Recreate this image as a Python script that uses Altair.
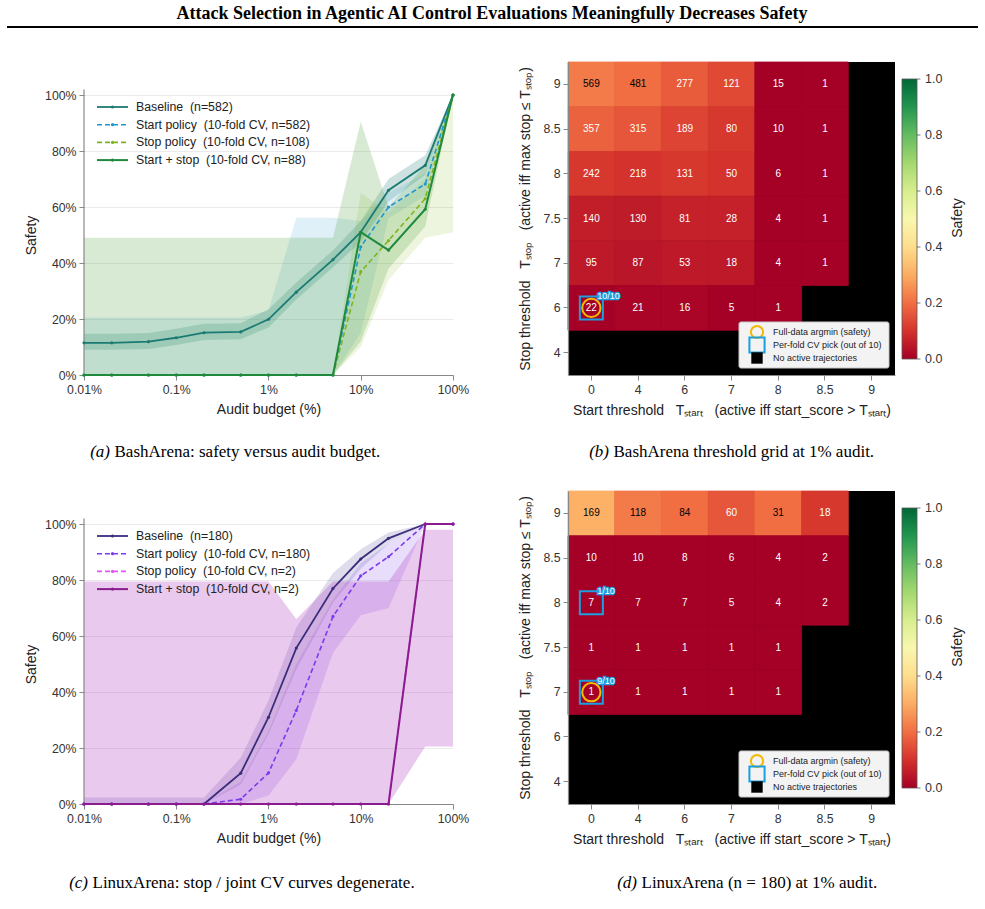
import altair as alt
import pandas as pd

SANS = "Liberation Sans"
SERIF = "Liberation Serif"

# ---------------------------------------------------------------- data
# audit budgets in percent (shared by both safety-vs-budget panels)
budgets = [0.01, 0.02, 0.05, 0.1, 0.2, 0.5, 1, 2, 5, 10, 20, 50, 100]

# BashArena: safety (%) and its uncertainty band per policy
bash_baseline = [11.5, 11.5, 11.9, 13.3, 15.1, 15.4, 19.9, 29.6, 41.2, 51.0, 66.0, 74.9, 100]
bash_baseline_lo = [9.0, 9.0, 9.3, 10.7, 12.5, 12.8, 17.0, 27.0, 38.5, 47.5, 62.0, 71.5, 100]
bash_baseline_hi = [14.7, 14.7, 15.0, 16.5, 18.3, 18.5, 23.5, 33.0, 44.5, 55.0, 70.0, 78.5, 100]
bash_start = [0, 0, 0, 0, 0, 0, 0, 0, 0, 45.8, 60.0, 68.2, 100]
bash_start_lo = [0, 0, 0, 0, 0, 0, 0, 0, 0, 15.0, 56.0, 64.0, 100]
bash_start_hi = [20.5, 20.5, 20.5, 20.5, 20.5, 20.5, 23.0, 56.2, 56.2, 55.0, 65.0, 72.0, 100]
bash_stop = [0, 0, 0, 0, 0, 0, 0, 0, 0, 36.9, 48.0, 63.0, 100]
bash_stop_lo = [0, 0, 0, 0, 0, 0, 0, 0, 0, 10.0, 34.0, 49.0, 51.0]
bash_stop_hi = [0, 0, 0, 0, 0, 0, 0, 0, 0, 65.0, 58.0, 70.0, 100]
bash_joint = [0, 0, 0, 0, 0, 0, 0, 0, 0, 51.0, 44.6, 59.2, 100]
bash_joint_lo = [0, 0, 0, 0, 0, 0, 0, 0, 0, 12.0, 38.0, 53.0, 100]
bash_joint_hi = [49.0, 49.0, 49.0, 49.0, 49.0, 49.0, 49.0, 49.0, 49.0, 90.5, 60.0, 75.0, 100]

# LinuxArena: safety (%) and its uncertainty band per policy
linux_baseline = [0, 0, 0, 0, 0, 11.0, 31.0, 55.7, 77.0, 87.5, 94.9, 100, 100]
linux_baseline_lo = [0, 0, 0, 0, 0, 7.0, 25.0, 48.0, 72.0, 84.0, 93.0, 100, 100]
linux_baseline_hi = [2.3, 2.3, 2.3, 2.3, 2.3, 16.5, 37.0, 63.0, 82.5, 91.0, 97.0, 100, 100]
linux_start = [0, 0, 0, 0, 0, 1.7, 11.1, 33.4, 67.0, 81.5, 88.3, 100, 100]
linux_start_lo = [0, 0, 0, 0, 0, 0, 3.0, 16.0, 54.0, 67.4, 70.0, 100, 100]
linux_start_hi = [0, 0, 0, 0, 0, 8.0, 26.0, 50.0, 73.0, 86.0, 93.0, 100, 100]
linux_stop = [0, 0, 0, 0, 0, 0, 0, 0, 0, 0, 0, 100, 100]
linux_stop_lo = [0, 0, 0, 0, 0, 0, 0, 0, 0, 0, 0, 20.5, 20.5]
linux_stop_hi = [79.5, 79.5, 79.5, 79.5, 79.5, 79.5, 79.5, 66.0, 79.5, 79.5, 79.5, 98.0, 98.0]
linux_joint = [0, 0, 0, 0, 0, 0, 0, 0, 0, 0, 0, 100, 100]
linux_joint_lo = [0, 0, 0, 0, 0, 0, 0, 0, 0, 0, 0, 20.5, 20.5]
linux_joint_hi = [79.5, 79.5, 79.5, 79.5, 79.5, 79.5, 79.5, 66.0, 79.5, 79.5, 79.5, 98.0, 98.0]

bash_labels = ["Baseline\u00a0 (n=582)",
               "Start policy\u00a0 (10-fold CV, n=582)",
               "Stop policy\u00a0 (10-fold CV, n=108)",
               "Start + stop\u00a0 (10-fold CV, n=88)"]
linux_labels = ["Baseline\u00a0 (n=180)",
                "Start policy\u00a0 (10-fold CV, n=180)",
                "Stop policy\u00a0 (10-fold CV, n=2)",
                "Start + stop\u00a0 (10-fold CV, n=2)"]

# threshold grids: rows = stop threshold (top to bottom), cols = start threshold
start_thresholds = ["0", "4", "6", "7", "8", "8.5", "9"]
stop_thresholds = ["9", "8.5", "8", "7.5", "7", "6", "4"]

bash_counts = [
    [569, 481, 277, 121, 15, 1, None],
    [357, 315, 189, 80, 10, 1, None],
    [242, 218, 131, 50, 6, 1, None],
    [140, 130, 81, 28, 4, 1, None],
    [95, 87, 53, 18, 4, 1, None],
    [22, 21, 16, 5, 1, None, None],
    [None, None, None, None, None, None, None],
]
bash_safety = [
    [0.22, 0.20, 0.17, 0.14, 0.0, 0.0, None],
    [0.18, 0.16, 0.13, 0.11, 0.0, 0.0, None],
    [0.11, 0.10, 0.11, 0.10, 0.0, 0.0, None],
    [0.06, 0.055, 0.065, 0.065, 0.0, 0.0, None],
    [0.05, 0.045, 0.05, 0.05, 0.0, 0.0, None],
    [0.0, 0.01, 0.01, 0.0, 0.0, None, None],
    [None, None, None, None, None, None, None],
]
linux_counts = [
    [169, 118, 84, 60, 31, 18, None],
    [10, 10, 8, 6, 4, 2, None],
    [7, 7, 7, 5, 4, 2, None],
    [1, 1, 1, 1, 1, None, None],
    [1, 1, 1, 1, 1, None, None],
    [None, None, None, None, None, None, None],
    [None, None, None, None, None, None, None],
]
linux_safety = [
    [0.31, 0.22, 0.20, 0.16, 0.20, 0.11, None],
    [0.0, 0.0, 0.0, 0.0, 0.0, 0.0, None],
    [0.0, 0.0, 0.0, 0.0, 0.0, 0.0, None],
    [0.0, 0.0, 0.0, 0.0, 0.0, None, None],
    [0.0, 0.0, 0.0, 0.0, 0.0, None, None],
    [None, None, None, None, None, None, None],
    [None, None, None, None, None, None, None],
]

# full-data argmin cells and per-fold CV picks (start, stop, folds)
bash_argmin = [("0", "6")]
bash_picks = [("0", "6", "10/10")]
linux_argmin = [("0", "7")]
linux_picks = [("0", "8", "1/10"), ("0", "7", "9/10")]

# colour-bar tick values
cbar_ticks = [0.0, 0.2, 0.4, 0.6, 0.8, 1.0]

# ---------------------------------------------------------------- styling
LINE_W, HEAT_W, PANEL_H = 369, 327, 313
Y_TOP = 111.8                     # keeps 0-100% on the lower 280 px
GOLD, CYAN = "#f5b800", "#1a9fe0"
CBAR_X, CBAR_Y, CBAR_LEN, CBAR_W = 334, 17, 280, 15
SP = "\u00a0\u00a0\u00a0"
T_START = "T\u209b\u209c\u2090\u1d63\u209c"
T_STOP = "T\u209b\u209c\u2092\u209a"

bash_style = dict(
    colors=["#1b7b73", "#2196cc", "#7fb31e", "#1f8a3d"],
    bands=[("#1b7b73", 0.22), ("#2196cc", 0.14), ("#7cb518", 0.14), ("#4f9e35", 0.22)],
    dashes=[None, [5, 3], [5, 3], None],
    widths=[1.8, 1.6, 1.6, 2.0],
)
linux_style = dict(
    colors=["#3a2d7d", "#7c3aed", "#e056f0", "#8a1c8f"],
    bands=[("#5e4fa2", 0.20), ("#8a5cf0", 0.20), ("#d04ee0", 0.10), ("#9c27b0", 0.18)],
    dashes=[None, [5, 3], [5, 3], None],
    widths=[1.8, 1.6, 1.6, 2.0],
)


def one_row():
    return pd.DataFrame({"k": [0]})


def x_budget():
    return alt.X("budget:Q",
                 scale=alt.Scale(type="log", domain=[0.01, 100], nice=False),
                 axis=alt.Axis(values=[0.01, 0.1, 1, 10, 100],
                               labelExpr="format(datum.value, '~g') + '%'",
                               title="Audit budget (%)", grid=False, tickSize=5,
                               labelFlush=False, labelPadding=3, titlePadding=7))


def y_safety(field):
    return alt.Y(f"{field}:Q",
                 scale=alt.Scale(domain=[0, Y_TOP], nice=False, zero=True),
                 axis=alt.Axis(values=[0, 20, 40, 60, 80, 100],
                               labelExpr="datum.value + '%'", title="Safety",
                               grid=True, gridColor="#ebebeb", domain=False, labelFlush=False,
                               tickSize=5, labelPadding=3, titleX=-46, titleY=173))


def caption(tag, text, x_split, y):
    src = one_row()
    italic = alt.Chart(src).mark_text(align="right", baseline="middle", font=SERIF,
                                      fontSize=17, fontStyle="italic", color="black").encode(
        x=alt.value(x_split), y=alt.value(y), text=alt.value(tag))
    roman = alt.Chart(src).mark_text(align="left", baseline="middle", font=SERIF,
                                     fontSize=17, color="black").encode(
        x=alt.value(x_split + 4.5), y=alt.value(y), text=alt.value(text))
    return [italic, roman]


def line_panel(series, labels, style, cap, extra=None):
    bands, lines, legend = [], [], []
    for k, (val, lo, hi) in enumerate(series):
        df = pd.DataFrame({"budget": budgets, "val": val, "lo": lo, "hi": hi})
        bc, bo = style["bands"][k]
        bands.append(alt.Chart(df).mark_area(color=bc, opacity=bo).encode(
            x=x_budget(), y=y_safety("lo"), y2="hi:Q"))
        kw = dict(color=style["colors"][k], strokeWidth=style["widths"][k])
        if style["dashes"][k]:
            kw["strokeDash"] = style["dashes"][k]
        lines.append(alt.Chart(df).mark_line(**kw).encode(x=x_budget(), y=y_safety("val")))
        lines.append(alt.Chart(df).mark_circle(color=style["colors"][k], size=10, opacity=1).encode(
            x=x_budget(), y=y_safety("val")))
        # legend entry
        yy = 45 + 17.7 * k
        legend.append(alt.Chart(one_row()).mark_rule(**kw).encode(
            x=alt.value(13), x2=alt.value(44), y=alt.value(yy)))
        legend.append(alt.Chart(one_row()).mark_circle(color=style["colors"][k], size=10, opacity=1).encode(
            x=alt.value(28.5), y=alt.value(yy)))
        legend.append(alt.Chart(one_row()).mark_text(align="left", baseline="middle", font=SANS,
                                                     fontSize=12.3, color="#222").encode(
            x=alt.value(52), y=alt.value(yy), text=alt.value(labels[k])))
    spine = alt.Chart(pd.DataFrame({"lo": [0], "hi": [102]})).mark_rule(color="#888", strokeWidth=1.2).encode(
        x=alt.value(0), y=y_safety("lo"), y2="hi:Q")
    layers = (extra or []) + bands + [spine] + lines + legend + caption(*cap)
    return alt.layer(*layers).properties(width=LINE_W, height=PANEL_H)


def heat_panel(counts, safety, argmin, picks, cap):
    rows = []
    for i, sy in enumerate(stop_thresholds):
        for j, sx in enumerate(start_thresholds):
            rows.append({"start": sx, "stop": sy, "n": counts[i][j], "safety": safety[i][j]})
    df = pd.DataFrame(rows)
    hx = alt.X("start:N", scale=alt.Scale(domain=start_thresholds, paddingInner=0, paddingOuter=0),
               axis=alt.Axis(title=f"Start threshold{SP}{T_START}{SP}(active iff start_score > {T_START})",
                             labelAngle=0, tickSize=5, labelPadding=3, titlePadding=8))
    hy = alt.Y("stop:N", scale=alt.Scale(domain=stop_thresholds, paddingInner=0, paddingOuter=0),
               axis=alt.Axis(title=f"Stop threshold{SP}{T_STOP}{SP}(active iff max stop \u2264 {T_STOP})",
                             tickSize=5, labelPadding=3, titlePadding=10))
    rdylgn = alt.Scale(scheme="redyellowgreen", domain=[0, 1])
    base = alt.Chart(df)
    # cells without active trajectories show through as black
    bg = alt.Chart(one_row()).mark_rect(color="black").encode(
        x=alt.value(0), x2=alt.value(HEAT_W), y=alt.value(0), y2=alt.value(PANEL_H))
    cells = base.mark_rect(strokeWidth=0.8).encode(
        x=hx, y=hy,
        color=alt.Color("safety:Q", scale=rdylgn,
                        legend=alt.Legend(orient="none", legendX=CBAR_X, legendY=CBAR_Y,
                                          direction="vertical", gradientLength=CBAR_LEN,
                                          gradientThickness=CBAR_W, title=None,
                                          values=cbar_ticks, labelExpr="''",
                                          gradientStrokeColor="#555", gradientStrokeWidth=0.8)),
        stroke=alt.Stroke("safety:Q", scale=rdylgn, legend=None),
    ).transform_filter("isValid(datum.safety)")
    nums = base.mark_text(fontSize=10, font=SANS).encode(
        x=hx, y=hy, text=alt.Text("n:Q", format="d"),
        color=alt.condition("datum.safety > 0.19", alt.value("black"), alt.value("white")),
    ).transform_filter("isValid(datum.n)")
    am = pd.DataFrame(argmin, columns=["start", "stop"])
    pk = pd.DataFrame(picks, columns=["start", "stop", "tag"])
    squares = alt.Chart(pk).mark_point(shape="square", filled=False, color=CYAN, strokeWidth=2,
                                       size=530, opacity=1).encode(x=hx, y=hy)
    circles = alt.Chart(am).mark_point(shape="circle", filled=False, color=GOLD, strokeWidth=2,
                                       size=335, opacity=1).encode(x=hx, y=hy)
    tag_edge = alt.Chart(pk).mark_text(align="left", baseline="middle", dx=6, dy=-11.5, fontSize=9,
                                       font=SANS, color=CYAN, stroke=CYAN, strokeWidth=2.5).encode(
        x=hx, y=hy, text="tag:N")
    tag_face = alt.Chart(pk).mark_text(align="left", baseline="middle", dx=6, dy=-11.5, fontSize=9,
                                       font=SANS, color="white").encode(x=hx, y=hy, text="tag:N")
    # colour-bar tick marks and labels, placed along the gradient by value
    ticks_src = alt.Chart(pd.DataFrame({"v": cbar_ticks})).transform_calculate(
        py=f"{CBAR_Y} + (1 - datum.v) * {CBAR_LEN}", lab="format(datum.v, '.1f')")
    cbar_tick = ticks_src.mark_rule(color="#555", strokeWidth=0.8).encode(
        x=alt.value(CBAR_X + CBAR_W), x2=alt.value(CBAR_X + CBAR_W + 3.5),
        y=alt.Y("py:Q", scale=None, axis=None))
    cbar_lab = ticks_src.mark_text(align="left", baseline="middle", font=SANS, fontSize=12.5,
                                   color="#333").encode(
        x=alt.value(CBAR_X + CBAR_W + 8), y=alt.Y("py:Q", scale=None, axis=None), text="lab:N")
    cbar_title = alt.Chart(one_row()).mark_text(angle=270, baseline="middle", align="center", font=SANS,
                                                fontSize=14, color="#222").encode(
        x=alt.value(390), y=alt.value(156), text=alt.value("Safety"))
    # inset key for the markers
    key = [
        alt.Chart(one_row()).mark_rect(fill="#f3f3f3", stroke="#c8c8c8", strokeWidth=1, cornerRadius=2).encode(
            x=alt.value(171), x2=alt.value(321), y=alt.value(260), y2=alt.value(306)),
        alt.Chart(one_row()).mark_point(shape="circle", filled=False, color=GOLD, strokeWidth=2,
                                        size=150, opacity=1).encode(x=alt.value(189), y=alt.value(270)),
        alt.Chart(one_row()).mark_point(shape="square", filled=False, color=CYAN, strokeWidth=2,
                                        size=230, opacity=1).encode(x=alt.value(189), y=alt.value(283)),
        alt.Chart(one_row()).mark_point(shape="square", filled=True, color="black",
                                        size=130, opacity=1).encode(x=alt.value(189), y=alt.value(296)),
    ]
    for yy, txt in [(270, "Full-data argmin (safety)"), (283, "Per-fold CV pick (out of 10)"),
                    (296, "No active trajectories")]:
        key.append(alt.Chart(one_row()).mark_text(align="left", baseline="middle", font=SANS, fontSize=9,
                                                   color="#222").encode(
            x=alt.value(205), y=alt.value(yy), text=alt.value(txt)))
    layers = ([bg, cells, nums, squares, circles, tag_edge, tag_face] + key
              + [cbar_tick, cbar_lab, cbar_title] + caption(*cap))
    return alt.layer(*layers).resolve_scale(stroke="independent").properties(width=HEAT_W, height=PANEL_H)


# page heading drawn above panel (a), plus a transparent frame fixing the page extent
heading = [
    alt.Chart(one_row()).mark_rect(fill="white", opacity=0).encode(
        x=alt.value(-84), x2=alt.value(901), y=alt.value(-62), y2=alt.value(847)),
    alt.Chart(one_row()).mark_text(align="center", baseline="middle", font=SERIF, fontSize=18,
                                   fontWeight="bold", color="black").encode(
        x=alt.value(408), y=alt.value(-48),
        text=alt.value("Attack Selection in Agentic AI Control Evaluations Meaningfully Decreases Safety")),
    alt.Chart(one_row()).mark_rule(color="black", strokeWidth=2.2).encode(
        x=alt.value(-77), x2=alt.value(894), y=alt.value(-35)),
]

panel_a = line_panel(
    [(bash_baseline, bash_baseline_lo, bash_baseline_hi),
     (bash_start, bash_start_lo, bash_start_hi),
     (bash_stop, bash_stop_lo, bash_stop_hi),
     (bash_joint, bash_joint_lo, bash_joint_hi)],
    bash_labels, bash_style,
    ("(a)", "BashArena: safety versus audit budget.", 26, 390), extra=heading)
panel_b = heat_panel(bash_counts, bash_safety, bash_argmin, bash_picks,
                     ("(b)", "BashArena threshold grid at 1% audit.", 41, 390))
panel_c = line_panel(
    [(linux_baseline, linux_baseline_lo, linux_baseline_hi),
     (linux_start, linux_start_lo, linux_start_hi),
     (linux_stop, linux_stop_lo, linux_stop_hi),
     (linux_joint, linux_joint_lo, linux_joint_hi)],
    linux_labels, linux_style,
    ("(c)", "LinuxArena: stop / joint CV curves degenerate.", 4, 392))
panel_d = heat_panel(linux_counts, linux_safety, linux_argmin, linux_picks,
                     ("(d)", "LinuxArena (n = 180) at 1% audit.", 69, 392))

chart = alt.concat(
    panel_a, panel_b, panel_c, panel_d,
    columns=2, spacing={"row": 116, "column": 115}, bounds="flush",
).resolve_scale(
    color="independent", stroke="independent"
).properties(
    padding=0
).configure(
    font=SANS
).configure_view(
    strokeWidth=0
).configure_axis(
    labelFont=SANS, titleFont=SANS, labelFontSize=12.3, titleFontSize=14,
    titleFontWeight="normal", labelColor="#333", titleColor="#222",
    domainColor="#888", tickColor="#888", domainWidth=1.2,
)

chart.save("out.html", embed_options={"renderer": "svg", "actions": False})
